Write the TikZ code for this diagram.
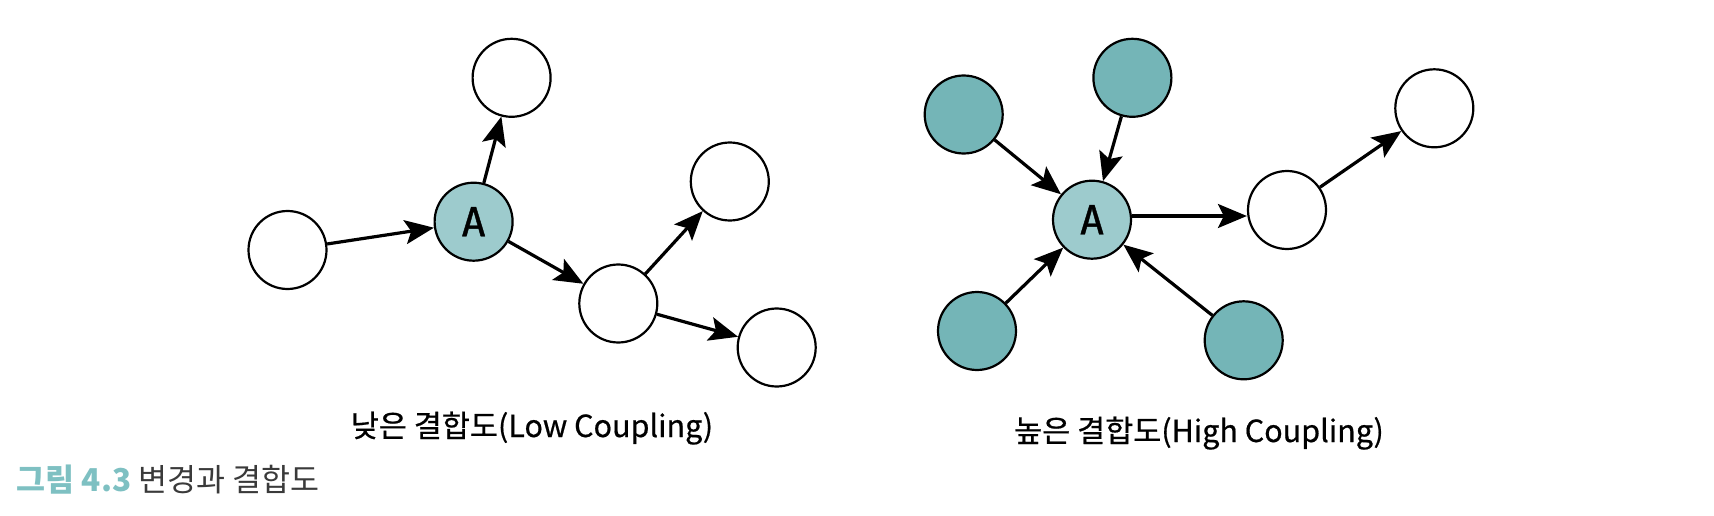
\documentclass[tikz,border=0pt]{standalone}
\usepackage{fontspec}
\setmainfont{Noto Sans CJK KR}
\newfontfamily\monoA[FakeBold=1]{DejaVu Sans Mono}
\newfontfamily\lblfont[FakeBold=0.6]{Noto Sans CJK KR}
\usetikzlibrary{arrows.meta}
\definecolor{afill}{HTML}{9DCBCD}
\definecolor{tealfill}{HTML}{74B5B7}
\definecolor{capteal}{HTML}{7EC0C2}
\definecolor{capgray}{HTML}{3A3A3A}
\tikzset{
  wnode/.style={circle,draw=black,line width=2.2pt,fill=white,minimum size=78pt,inner sep=0pt},
  tnode/.style={wnode,fill=tealfill},
  anode/.style={wnode,fill=afill,font=\monoA\fontsize{40}{44}\selectfont},
  conn/.style={line width=3.2pt,-{Stealth[length=29pt,width=24pt,inset=6pt]}},
  lbl/.style={font=\lblfont\fontsize{30.5}{36}\selectfont,inner sep=0pt,anchor=base}
}
\begin{document}
\begin{tikzpicture}[x=1pt,y=-1pt]
\useasboundingbox (0,0) rectangle (1714,516);
% left diagram
\node[wnode] (l1) at (287.5,250) {};
\node[anode] (la) at (473.6,221.7) {A};
\node[wnode] (lt) at (511.6,77.8) {};
\node[wnode] (lm) at (618.3,303.5) {};
\node[wnode] (lur) at (729.8,181.5) {};
\node[wnode] (lbr) at (776.7,347.5) {};
\draw[conn] (l1) -- (la);
\draw[conn] (la) -- (lt);
\draw[conn] (la) -- (lm);
\draw[conn] (lm) -- (lur);
\draw[conn] (lm) -- (lbr);
% right diagram
\node[tnode] (rtl) at (963.7,114.5) {};
\node[tnode] (rt) at (1132.4,77.8) {};
\node[anode] (ra) at (1092,219.7) {A};
\node[wnode] (rm) at (1287,210) {};
\node[wnode] (rur) at (1434.3,108.3) {};
\node[tnode] (rbl) at (977,331) {};
\node[tnode] (rbr) at (1243.7,340.3) {};
\coordinate (hy) at (0,216);
\draw[conn] (rtl) -- (ra);
\draw[conn] (rt) -- (ra);
\draw[conn] (rbl) -- (ra);
\draw[conn] (rbr) -- (ra);
\draw[conn] (ra.east |- hy) -- (rm.west |- hy);
\draw[conn] (rm) -- (rur);
% labels
\node[lbl] (ll) at (532,437) {낮은 결합도(Low Coupling)};
\node[lbl] (rl) at (1199,442) {높은 결합도(High Coupling)};
\node[font=\fontsize{31.5}{36}\selectfont,inner sep=0pt,anchor=base west,text=capgray] (cap) at (16.5,491) {\textcolor{capteal}{\bfseries 그림 4.3} 변경과 결합도};
\end{tikzpicture}
\end{document}
